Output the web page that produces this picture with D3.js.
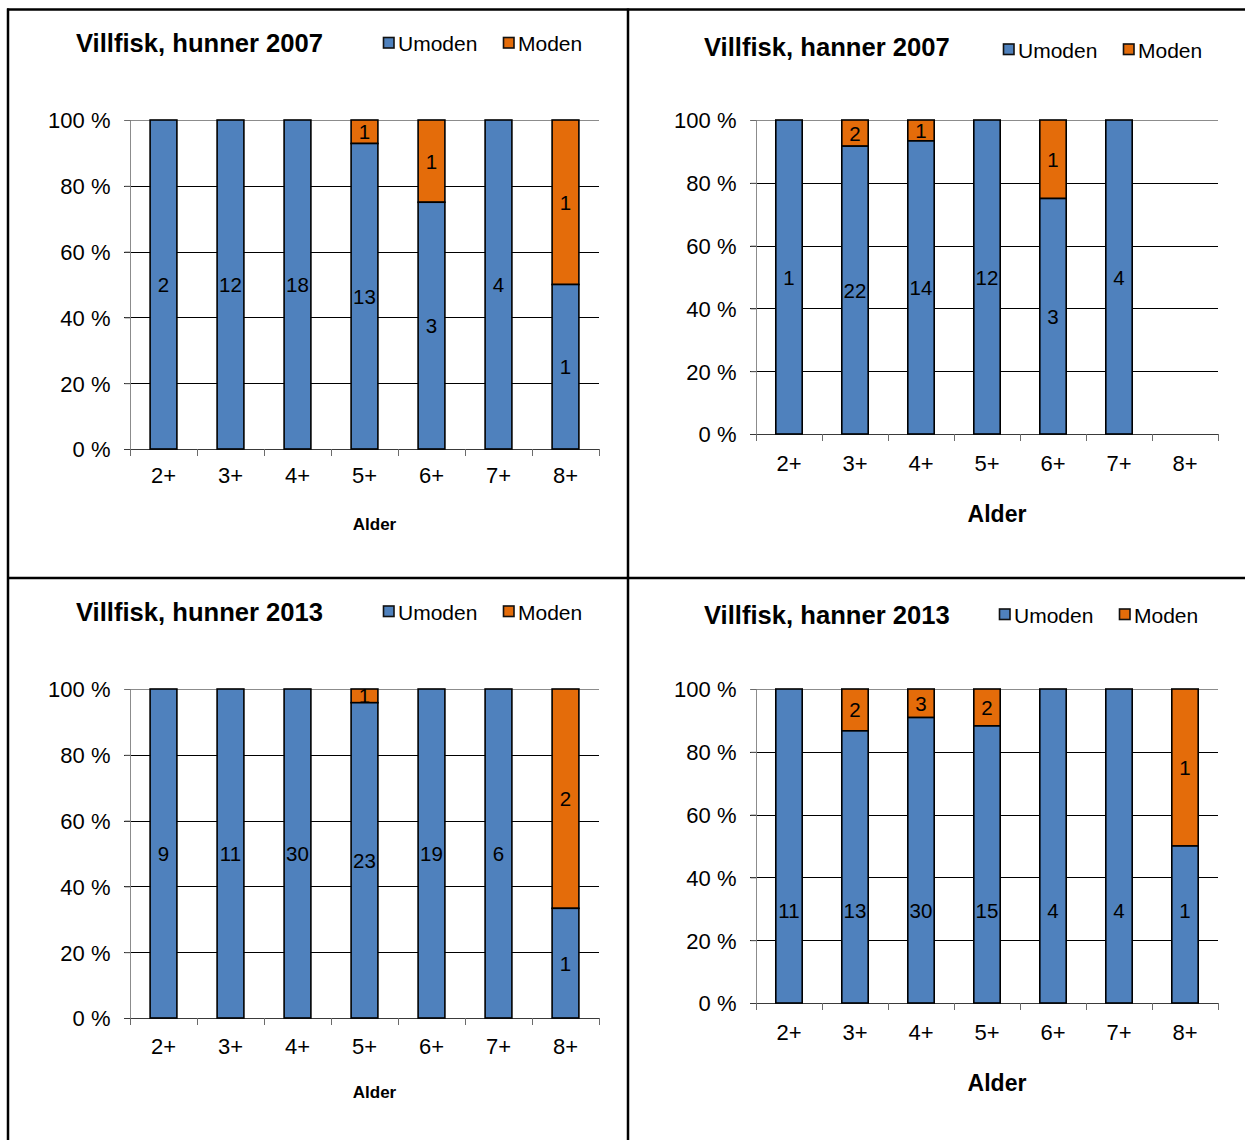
<!DOCTYPE html>
<html>
<head>
<meta charset="utf-8">
<script src="https://cdn.jsdelivr.net/npm/d3@7"></script>
<style>
  html, body { margin: 0; padding: 0; background: #fff; }
  svg { display: block; font-family: "Liberation Sans", Arial, sans-serif; }
</style>
</head>
<body>
<svg id="chart" width="1245" height="1140"></svg>
<script>
// Age classes on the x axis and the percentage ticks on the y axis
const ages = ["2+", "3+", "4+", "5+", "6+", "7+", "8+"];
const yTicks = [0, 20, 40, 60, 80, 100];
const seriesNames = ["Umoden", "Moden"];

// Fish counts per age class (immature / mature)
const hunner2007Umoden = [2, 12, 18, 13, 3, 4, 1];
const hunner2007Moden  = [0, 0, 0, 1, 1, 0, 1];
const hanner2007Umoden = [1, 22, 14, 12, 3, 4, 0];
const hanner2007Moden  = [0, 2, 1, 0, 1, 0, 0];
const hunner2013Umoden = [9, 11, 30, 23, 19, 6, 1];
const hunner2013Moden  = [0, 0, 0, 1, 0, 0, 2];
const hanner2013Umoden = [11, 13, 30, 15, 4, 4, 1];
const hanner2013Moden  = [0, 2, 3, 2, 0, 0, 1];

const colors = { Umoden: "#4F81BD", Moden: "#E46C0A" };

// One panel per sex and year
const panels = [
  { title: "Villfisk, hunner 2007", umoden: hunner2007Umoden, moden: hunner2007Moden,
    x0: 130, x1: 599, yTop: 120, yBot: 449, titleX: 76, titleY: 52,
    legendY: 51, legendX: [383, 503], tickLabelY: 483, alderY: 530, alderSize: 17, umodenLabelAt: null },
  { title: "Villfisk, hanner 2007", umoden: hanner2007Umoden, moden: hanner2007Moden,
    x0: 756, x1: 1218, yTop: 120, yBot: 434, titleX: 704, titleY: 55.5,
    legendY: 57.5, legendX: [1003, 1123], tickLabelY: 470.5, alderY: 521.5, alderSize: 23, umodenLabelAt: null },
  { title: "Villfisk, hunner 2013", umoden: hunner2013Umoden, moden: hunner2013Moden,
    x0: 130, x1: 599, yTop: 689, yBot: 1018, titleX: 76, titleY: 621,
    legendY: 619.5, legendX: [383, 503], tickLabelY: 1053.5, alderY: 1098, alderSize: 17, umodenLabelAt: null },
  { title: "Villfisk, hanner 2013", umoden: hanner2013Umoden, moden: hanner2013Moden,
    x0: 756, x1: 1218, yTop: 689, yBot: 1003, titleX: 704, titleY: 624,
    legendY: 622.5, legendX: [999, 1119], tickLabelY: 1039.5, alderY: 1090.5, alderSize: 23, umodenLabelAt: 29.5 }
];

const svg = d3.select("#chart");

// Frame lines separating the four panels
const frame = svg.append("g").attr("stroke", "#000").attr("stroke-width", 2.5);
frame.append("line").attr("x1", 7).attr("x2", 1245).attr("y1", 9.5).attr("y2", 9.5);
frame.append("line").attr("x1", 8).attr("x2", 8).attr("y1", 8.5).attr("y2", 1140);
frame.append("line").attr("x1", 628).attr("x2", 628).attr("y1", 8.5).attr("y2", 1140);
frame.append("line").attr("x1", 7).attr("x2", 1245).attr("y1", 578).attr("y2", 578);

panels.forEach(p => {
  const g = svg.append("g");

  const rows = ages.map((a, i) => {
    const u = p.umoden[i], m = p.moden[i], tot = u + m;
    return { age: a, Umoden: u, Moden: m, total: tot,
             uPct: tot ? 100 * u / tot : 0, mPct: tot ? 100 * m / tot : 0 };
  });

  const x = d3.scaleBand().domain(ages).range([p.x0, p.x1])
    .paddingInner(0.6).paddingOuter(0.3);
  const y = d3.scaleLinear().domain([0, 100]).range([p.yBot, p.yTop]);
  const step = x.step();

  // Horizontal gridlines
  g.append("g").selectAll("line").data(yTicks.filter(t => t > 0)).join("line")
    .attr("x1", p.x0 - 6).attr("x2", p.x1)
    .attr("y1", d => Math.round(y(d)) + 0.5).attr("y2", d => Math.round(y(d)) + 0.5)
    .attr("stroke", d => d === 100 ? "#8c8c8c" : "#000").attr("stroke-width", 1);

  // Y axis
  const yAxis = d3.axisLeft(y).tickValues(yTicks).tickSize(6).tickFormat(d => d + " %");
  const ya = g.append("g").attr("transform", `translate(${p.x0 + 0.5},0)`).call(yAxis);
  ya.select(".domain").attr("stroke", "#8c8c8c").attr("d", `M0,${p.yTop}V${p.yBot + 7}`);
  ya.selectAll(".tick line").attr("stroke", "#6b6b6b");
  ya.selectAll(".tick text").attr("font-size", 22).attr("fill", "#000")
    .attr("font-family", "Liberation Sans, Arial, sans-serif")
    .attr("x", -20).attr("dy", "0.36em");

  // X axis with tick marks on the category boundaries
  const xa = g.append("g");
  xa.append("line").attr("x1", p.x0 - 6).attr("x2", p.x1)
    .attr("y1", Math.round(p.yBot) + 0.5).attr("y2", Math.round(p.yBot) + 0.5)
    .attr("stroke", "#3a3a3a");
  xa.selectAll("line.tk").data(d3.range(ages.length + 1)).join("line").attr("class", "tk")
    .attr("x1", i => Math.round(p.x0 + i * step) + 0.5).attr("x2", i => Math.round(p.x0 + i * step) + 0.5)
    .attr("y1", p.yBot).attr("y2", p.yBot + 7).attr("stroke", "#6b6b6b");
  xa.selectAll("text").data(ages).join("text")
    .attr("x", d => x(d) + x.bandwidth() / 2).attr("y", p.tickLabelY)
    .attr("text-anchor", "middle").attr("font-size", 22).text(d => d);

  // Moden bars and labels first so the Umoden segment sits on top
  const withData = rows.filter(r => r.total > 0);
  g.append("g").selectAll("rect").data(withData.filter(r => r.Moden > 0)).join("rect")
    .attr("x", r => x(r.age)).attr("width", x.bandwidth())
    .attr("y", y(100)).attr("height", r => y(r.uPct) - y(100))
    .attr("fill", colors.Moden).attr("stroke", "#000").attr("stroke-width", 1.6);
  g.append("g").selectAll("text").data(withData.filter(r => r.Moden > 0)).join("text")
    .attr("x", r => x(r.age) + x.bandwidth() / 2)
    .attr("y", r => (y(100) + y(r.uPct)) / 2 + 7.5)
    .attr("text-anchor", "middle").attr("font-size", 20.5).text(r => r.Moden);

  g.append("g").selectAll("rect").data(withData.filter(r => r.Umoden > 0)).join("rect")
    .attr("x", r => x(r.age)).attr("width", x.bandwidth())
    .attr("y", r => y(r.uPct)).attr("height", r => y(0) - y(r.uPct))
    .attr("fill", colors.Umoden).attr("stroke", "#000").attr("stroke-width", 1.6);
  g.append("g").selectAll("text").data(withData.filter(r => r.Umoden > 0)).join("text")
    .attr("x", r => x(r.age) + x.bandwidth() / 2)
    .attr("y", r => (p.umodenLabelAt !== null ? y(p.umodenLabelAt) : (y(0) + y(r.uPct)) / 2) + 7.5)
    .attr("text-anchor", "middle").attr("font-size", 20.5).text(r => r.Umoden);

  // Title
  g.append("text").attr("x", p.titleX).attr("y", p.titleY)
    .attr("font-size", 25.6).attr("font-weight", "bold").text(p.title);

  // Legend
  seriesNames.forEach((s, i) => {
    g.append("rect").attr("x", p.legendX[i] + 0.5).attr("y", p.legendY - 13.5)
      .attr("width", 10.5).attr("height", 10.5)
      .attr("fill", colors[s]).attr("stroke", "#111").attr("stroke-width", 1.6);
    g.append("text").attr("x", p.legendX[i] + 15).attr("y", p.legendY)
      .attr("font-size", 21).text(s);
  });

  // Axis title
  g.append("text").attr("x", (p.x0 + p.x1) / 2 + 10).attr("y", p.alderY)
    .attr("text-anchor", "middle").attr("font-size", p.alderSize)
    .attr("font-weight", "bold").text("Alder");
});
</script>
</body>
</html>
